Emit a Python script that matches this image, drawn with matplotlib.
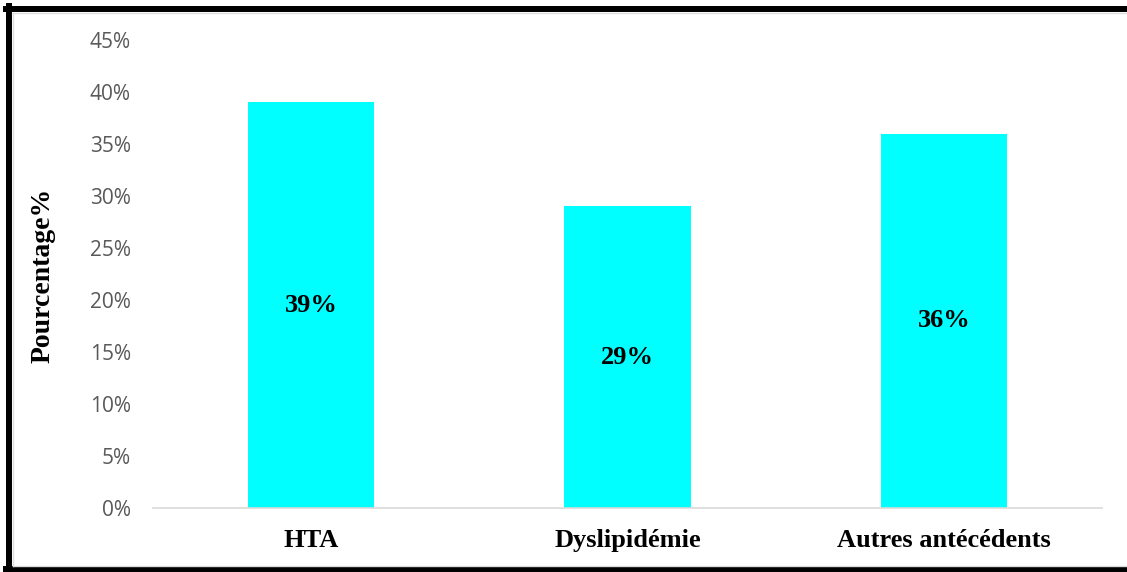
import matplotlib.pyplot as plt
from matplotlib.lines import Line2D

# donnees
categories = ['HTA', 'Dyslipidémie', 'Autres antécédents']
valeurs = [39, 29, 36]
yticks = [0, 5, 10, 15, 20, 25, 30, 35, 40, 45]

W, H = 1127, 572
fig = plt.figure(figsize=(W / 100, H / 100), dpi=100)
ax = fig.add_axes([153 / W, 1 - 508 / H, (1102 - 153) / W, (508 - 40) / H])

x = range(len(categories))
ax.bar(x, valeurs, width=0.4, color='#00FFFF')
for i, v in zip(x, valeurs):
    ax.text(i, v / 2, f'{v}%', ha='center', va='center', fontsize=19,
            fontweight='bold', family='Liberation Serif', color='black')

ax.set_xlim(-0.5, 2.5)
ax.set_ylim(0, 45)
ax.set_yticks(yticks)
ax.set_yticklabels([f'{t}%' for t in yticks], family='Open Sans', fontsize=15, color='#595959')
ax.set_xticks(list(x))
ax.set_xticklabels(categories, family='Liberation Serif', fontsize=19, fontweight='bold')
ax.tick_params(axis='both', length=0)
ax.tick_params(axis='y', pad=16)
ax.tick_params(axis='x', pad=15)
for s in ['top', 'right', 'left']:
    ax.spines[s].set_visible(False)
ax.spines['bottom'].set_color('#D9D9D9')
ax.spines['bottom'].set_linewidth(1.2)

fig.text(43 / W, 1 - 275 / H, 'Pourcentage%', rotation=90, ha='center', va='center',
         family='Liberation Serif', fontsize=20, fontweight='bold')

# cadre noir
lw = 4.3
fig.add_artist(Line2D([6 / W, 1], [1 - 9 / H, 1 - 9 / H], color='black', lw=lw))
fig.add_artist(Line2D([9 / W, 9 / W], [1 - 6 / H, 1 - 572 / H], color='black', lw=lw))
fig.add_artist(Line2D([6 / W, 1], [1 - 569 / H, 1 - 569 / H], color='black', lw=lw))
fig.add_artist(Line2D([13 / W, 1], [1 - 13 / H, 1 - 13 / H], color='#DDDDDD', lw=1))
fig.add_artist(Line2D([13 / W, 13 / W], [1 - 13 / H, 1 - 566 / H], color='#DDDDDD', lw=1))
fig.add_artist(Line2D([13 / W, 1], [1 - 566 / H, 1 - 566 / H], color='#DDDDDD', lw=1))

plt.savefig('out.png', dpi=100)
